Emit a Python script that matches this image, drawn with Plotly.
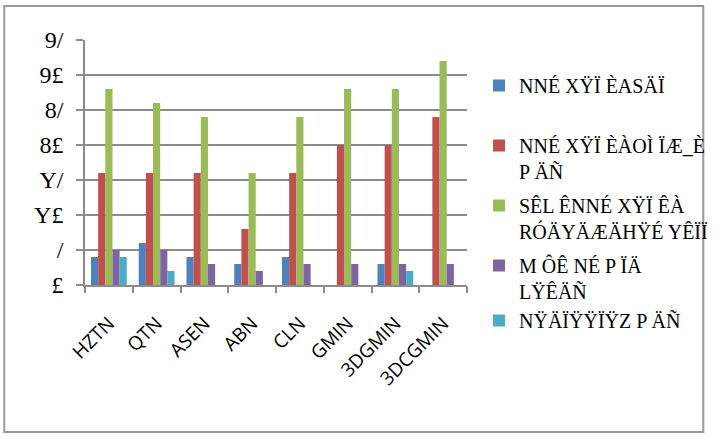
import plotly.graph_objects as go

categories = ["HZTN", "QTN", "ASEN", "ABN", "CLN", "GMIN", "3DGMIN", "3DCGMIN"]
series_names = [
    "NNÉ XŸÏ ÈASÄÏ<br> ",
    "NNÉ XŸÏ ÈÀOÌ ÏÆ_È<br>P ÄÑ",
    "SÊL ÊNNÉ XŸÏ ÊÀ<br>RÓÄYÄÆÄHŸÉ YÊÏÏ",
    "M ÔÊ NÉ P ÏÄ<br>LŸÊÄÑ",
    "NŸÄÏŸŸÏŸZ P ÄÑ",
]
legend_groups = ["g0", "g1", "g2", "g3", "g3"]
s1 = [4, 6, 4, 3, 4, None, 3, None]
s2 = [16, 16, 16, 8, 16, 20, 20, 24]
s3 = [28, 26, 24, 16, 24, 28, 28, 32]
s4 = [5, 5, 3, 2, 3, 3, 3, 3]
s5 = [4, 2, None, None, None, None, 2, None]
series_values = [s1, s2, s3, s4, s5]
colors = ["#4F81BD", "#C0504D", "#9BBB59", "#8064A2", "#4BACC6"]

y_tick_values = [0, 5, 10, 15, 20, 25, 30, 35]
y_tick_labels = ["£", "/", "Y£", "Y/", "8£", "8/", "9£", "9/"]

fig = go.Figure()
for name, grp, vals, col in zip(series_names, legend_groups, series_values, colors):
    fig.add_trace(go.Bar(x=categories, y=vals, name=name, legendgroup=grp,
                         marker=dict(color=col, line=dict(width=0))))

L, R, T, B = 85, 473, 40, 285
W, H = 720, 437
pw, ph = R - L, B - T

def px_x(p):
    return (p - L) / pw

def px_y(p):
    return (B - p) / ph

fig.update_layout(
    width=W, height=H,
    margin=dict(l=L, r=W - R, t=T, b=H - B, pad=0),
    paper_bgcolor="white", plot_bgcolor="white",
    barmode="group", bargap=0.25, bargroupgap=0,
    showlegend=True,
    legend=dict(
        xref="container", yref="container",
        x=479 / W, y=1 - 66 / H, xanchor="left", yanchor="top",
        valign="top", traceorder="grouped", tracegroupgap=5,
        groupclick="toggleitem",
        maxheight=420,
        font=dict(family="Liberation Serif", size=20, color="black"),
        bgcolor="rgba(0,0,0,0)", itemsizing="constant",
    ),
    xaxis=dict(
        showline=True, linecolor="#8c8c8c", linewidth=1.5,
        ticks="outside", ticklen=6, tickcolor="#8c8c8c", tickwidth=1.5,
        tickson="boundaries", tickangle=-45, ticklabelstandoff=18,
        tickfont=dict(family="Open Sans", size=19, color="black"),
        showgrid=False,
    ),
    yaxis=dict(
        range=[0, 35], tickvals=y_tick_values, ticktext=y_tick_labels,
        showline=True, linecolor="#8c8c8c", linewidth=1.5,
        ticks="outside", ticklen=7, tickcolor="#8c8c8c", tickwidth=1.5,
        ticklabelstandoff=8,
        showgrid=True, gridcolor="#8c8c8c", gridwidth=1.5,
        tickfont=dict(family="Liberation Serif", size=24, color="black"),
        zeroline=False,
    ),
    shapes=[dict(
        type="rect", xref="paper", yref="paper",
        x0=px_x(3), x1=px_x(713), y0=px_y(6), y1=px_y(432),
        line=dict(color="#9a9a9a", width=2), layer="below",
    )],
)

fig.write_html("out.html")
